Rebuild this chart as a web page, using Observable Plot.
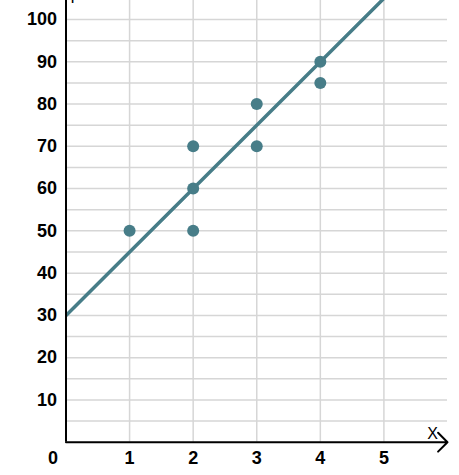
<!DOCTYPE html>
<html>
<head>
<meta charset="utf-8">
<script src="https://cdn.jsdelivr.net/npm/d3@7"></script>
<script src="https://cdn.jsdelivr.net/npm/@observablehq/plot@0.6"></script>
<style>
  html, body { margin: 0; padding: 0; background: #fff; }
</style>
</head>
<body>
<div id="chart"></div>
<script>
const pointsX = [1, 2, 2, 2, 3, 3, 4, 4];
const pointsY = [50, 70, 60, 50, 80, 70, 90, 85];
const lineX = [0, 6];
const lineY = [30, 120];
const xTicks = [1, 2, 3, 4, 5];
const yTicks = [10, 20, 30, 40, 50, 60, 70, 80, 90, 100];
const gridY = [5, 10, 15, 20, 25, 30, 35, 40, 45, 50, 55, 60, 65, 70, 75, 80, 85, 90, 95, 100];
const xMax = 6;
const yMax = 104.5;

const points = pointsX.map((x, i) => ({x, y: pointsY[i]}));
const fitLine = lineX.map((x, i) => ({x, y: lineY[i]}));

const teal = "#477d88";
const grid = "#d6d6d6";

const chart = Plot.plot({
  width: 459,
  height: 475,
  marginLeft: 65.5,
  marginRight: 12,
  marginTop: 0,
  marginBottom: 33.3,
  x: {domain: [0, xMax], label: null},
  y: {domain: [0, yMax], label: null},
  style: {fontFamily: "'Liberation Sans', Arial, sans-serif", background: "#fff", overflow: "visible"},
  marks: [
    Plot.ruleY(gridY, {x1: 0, x2: xMax, stroke: grid, strokeWidth: 1.5}),
    Plot.ruleX(xTicks, {y1: 0, y2: yMax, stroke: grid, strokeWidth: 1.5}),
    Plot.line(fitLine, {x: "x", y: "y", stroke: teal, strokeWidth: 3.5, clip: true}),
    Plot.dot(points, {x: "x", y: "y", r: 6, fill: teal, stroke: "none"}),
    Plot.ruleX([0], {y1: 0, y2: yMax, stroke: "#000", strokeWidth: 2}),
    Plot.arrow([0], {x1: 0, x2: xMax, y1: 0, y2: 0, stroke: "#000", strokeWidth: 2, headLength: 10, headAngle: 90}),
    Plot.axisX(xTicks, {tickSize: 0, tickPadding: 9, fontSize: 18, fontWeight: "bold", fill: "#000"}),
    Plot.axisY(yTicks, {tickSize: 0, tickPadding: 9, fontSize: 18, fontWeight: "bold", fill: "#000"}),
    Plot.text(["0"], {x: 0, y: 0, text: d => d, dx: -13, dy: 9, lineAnchor: "top", fontSize: 18, fontWeight: "bold", fill: "#000"}),
    Plot.text(["X"], {x: xMax, y: 0, text: d => d, dx: -15, dy: -3.5, lineAnchor: "bottom", fontSize: 16, fill: "#000"}),
    Plot.text(["Y"], {x: 0, y: yMax, text: d => d, dx: 6.5, dy: 2, lineAnchor: "bottom", fontSize: 16, fill: "#000"})
  ]
});

document.getElementById("chart").append(chart);
</script>
</body>
</html>
